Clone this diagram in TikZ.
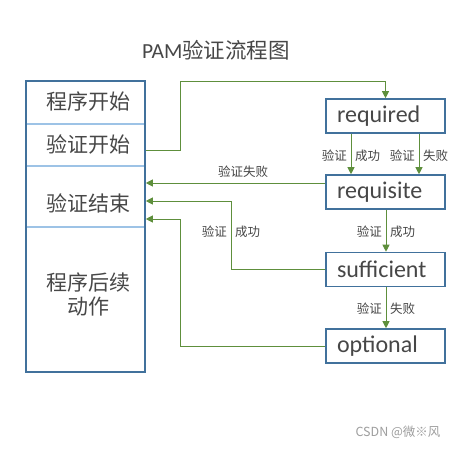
\documentclass[tikz,border=0pt]{standalone}
\usepackage{fontspec}
\setmainfont{Carlito}
\newfontfamily\cjk{Noto Sans CJK SC}
\newfontfamily\lat{Carlito}
\usetikzlibrary{arrows.meta}
\definecolor{boxblue}{HTML}{41719C}
\definecolor{divblue}{HTML}{9DC3E6}
\definecolor{arrgreen}{HTML}{5E8F3C}
\definecolor{txt}{HTML}{474747}
\tikzset{
  mod/.style={draw=boxblue, line width=1.6pt, minimum height=34pt, text width=97pt,
    align=left, inner xsep=11pt, inner ysep=0pt, font=\lat\fontsize{24}{26}\selectfont, text=txt},
  lefttext/.style={font=\cjk\fontsize{21}{24}\selectfont, text=txt, inner sep=0pt},
  lab/.style={font=\cjk\fontsize{12.5}{14}\selectfont, text=txt, inner sep=0pt},
  conn/.style={draw=arrgreen, line width=0.9pt, -{Triangle[length=7pt,width=7pt]}},
}
\begin{document}
\begin{tikzpicture}[x=1pt,y=-1pt]
\useasboundingbox[fill=white] (0,0) rectangle (463,449);
% title
\node[inner sep=0pt, text=txt, font=\fontsize{21.5}{24}\selectfont] (title) at (216,50) {{\lat PAM}{\cjk 验证流程图}};
% left column
\node[draw=boxblue, line width=1.6pt, minimum width=119pt, minimum height=291pt, inner sep=0pt] (left) at (85.5,226.5) {};
\draw[divblue, line width=1.2pt] (26.8,124) -- (144.2,124) (26.8,166) -- (144.2,166) (26.8,227) -- (144.2,227);
\node[lefttext] (l1) at (88,102) {程序开始};
\node[lefttext] (l2) at (88,144) {验证开始};
\node[lefttext] (l3) at (88,203) {验证结束};
\node[lefttext, align=center, font=\cjk\fontsize{21}{24}\selectfont] (l4) at (88,294) {程序后续\\动作};
% right modules
\node[mod] (req) at (385.5,116) {required};
\node[mod] (rqs) at (385.5,192) {requisite};
\node[mod] (suf) at (385.5,269.5) {sufficient};
\node[mod] (opt) at (385.5,346) {optional};
% helper coordinates
\coordinate (xa) at (351,0);
\coordinate (xb) at (419,0);
\coordinate (xc) at (386,0);
\coordinate (ys) at (0,150);
\coordinate (y1) at (0,183);
\coordinate (y2) at (0,201);
\coordinate (y3) at (0,219);
\coordinate (ttop) at (180,81);
\coordinate (vx1) at (231,0);
\coordinate (vx2) at (180,0);
% top connector
\draw[conn] (left.east |- ys) -| (ttop) -| (req.north);
% required -> requisite
\draw[conn] (req.south -| xa) -- (rqs.north -| xa);
\draw[conn] (req.south -| xb) -- (rqs.north -| xb);
\node[lab, anchor=east] (la1) at (347,156) {验证};
\node[lab, anchor=west] (lb1) at (355,156) {成功};
\node[lab, anchor=east] (la2) at (415,156) {验证};
\node[lab, anchor=west] (lb2) at (423,156) {失败};
% requisite -> sufficient
\draw[conn] (rqs.south -| xc) -- (suf.north -| xc);
\node[lab, anchor=east] (la3) at (382,232) {验证};
\node[lab, anchor=west] (lb3) at (390,232) {成功};
% sufficient -> optional
\draw[conn] (suf.south -| xc) -- (opt.north -| xc);
\node[lab, anchor=east] (la4) at (382,309) {验证};
\node[lab, anchor=west] (lb4) at (390,309) {失败};
% back to 验证结束
\draw[conn] (rqs.west |- y1) -- (left.east |- y1);
\node[lab] (lf) at (243,172) {验证失败};
\draw[conn] (suf.west) -| (vx1 |- y2) -- (left.east |- y2);
\node[lab, anchor=east] (la5) at (227,232) {验证};
\node[lab, anchor=west] (lb5) at (235,232) {成功};
\draw[conn] (opt.west) -| (vx2 |- y3) -- (left.east |- y3);
% watermark
\node[inner sep=0pt, text=black!38, font=\cjk\fontsize{12.5}{14}\selectfont] (wm) at (398,432) {CSDN @微※风};
\end{tikzpicture}
\end{document}
